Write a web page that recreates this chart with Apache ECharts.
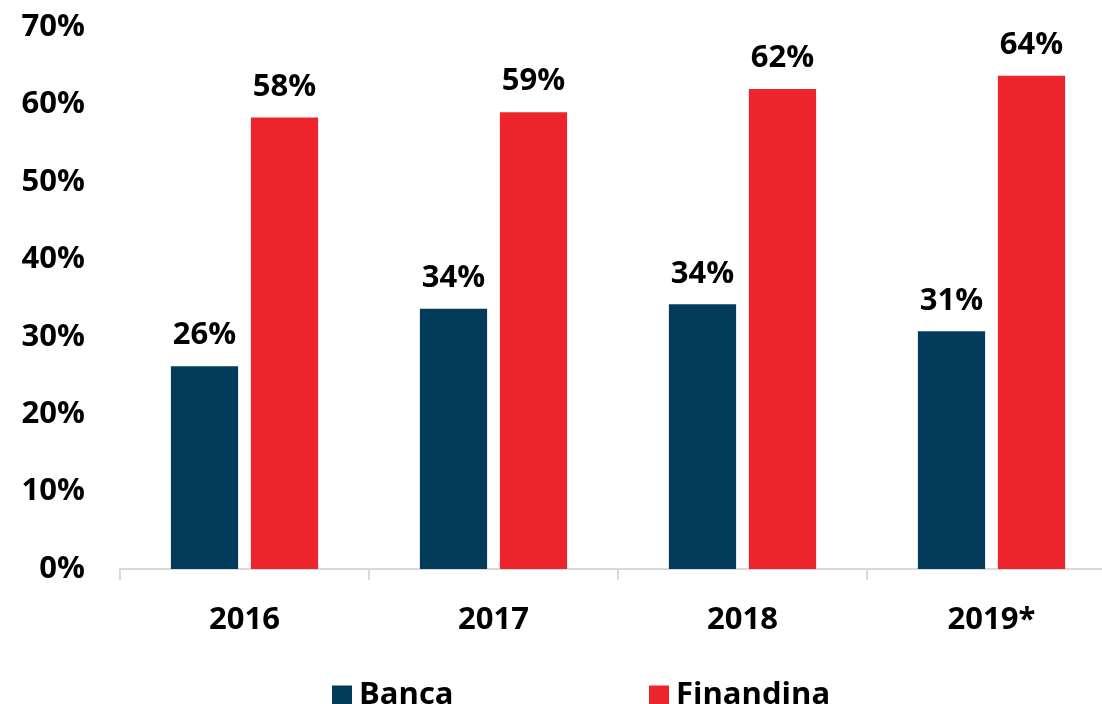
<!DOCTYPE html>
<html>
<head>
<meta charset="utf-8">
<script src="https://cdn.jsdelivr.net/npm/echarts@6/dist/echarts.min.js"></script>
<style>
  html, body { margin: 0; padding: 0; background: #fff; }
  #chart { width: 1102px; height: 704px; }
</style>
</head>
<body>
<div id="chart"></div>
<script>
const categories = ['2016', '2017', '2018', '2019*'];
const bancaValues = [26.2, 33.6, 34.2, 30.7];
const finandinaValues = [58.3, 59.0, 62.0, 63.7];
const seriesNames = ['Banca', 'Finandina'];

const FONT = '"Open Sans", "Noto Sans", sans-serif';
const FS = 31;
const colors = ['#033B5B', '#EE242C'];

const chart = echarts.init(document.getElementById('chart'));
const labelStyle = {
  show: true,
  position: 'top',
  distance: 15,
  formatter: p => Math.round(p.value) + '%',
  fontFamily: FONT,
  fontWeight: 'bold',
  fontSize: FS,
  color: '#000'
};
chart.setOption({
  animation: false,
  backgroundColor: '#fff',
  grid: { left: 120, width: 996, top: 27, bottom: 135, containLabel: false, outerBoundsMode: 'none' },
  legend: [
    {
      data: [seriesNames[0]], left: 327, top: 675,
      itemWidth: 20, itemHeight: 20, itemGap: 0,
      icon: 'rect',
      textStyle: { fontFamily: FONT, fontWeight: 'bold', fontSize: FS, color: '#000', padding: [0, 0, 0, 2] }
    },
    {
      data: [seriesNames[1]], left: 644, top: 675,
      itemWidth: 20, itemHeight: 20, itemGap: 0,
      icon: 'rect',
      textStyle: { fontFamily: FONT, fontWeight: 'bold', fontSize: FS, color: '#000', padding: [0, 0, 0, 2] }
    }
  ],
  xAxis: {
    type: 'category',
    data: categories,
    axisLine: { show: true, lineStyle: { color: '#d9d9d9', width: 2 } },
    axisTick: { show: true, length: 11, lineStyle: { color: '#d9d9d9', width: 2 } },
    axisLabel: { margin: 36, fontFamily: FONT, fontWeight: 'bold', fontSize: FS, color: '#000' }
  },
  yAxis: {
    type: 'value',
    min: 0, max: 70, interval: 10,
    axisLine: { show: false },
    axisTick: { show: false },
    splitLine: { show: false },
    axisLabel: { formatter: '{value}%', margin: 35, fontFamily: FONT, fontWeight: 'bold', fontSize: FS, color: '#000' }
  },
  series: [
    {
      name: seriesNames[0], type: 'bar', data: bancaValues,
      barWidth: '27%', barGap: '19%',
      itemStyle: { color: colors[0] },
      label: labelStyle
    },
    {
      name: seriesNames[1], type: 'bar', data: finandinaValues,
      barWidth: '27%', barGap: '19%',
      itemStyle: { color: colors[1] },
      label: labelStyle
    }
  ]
});
</script>
</body>
</html>
